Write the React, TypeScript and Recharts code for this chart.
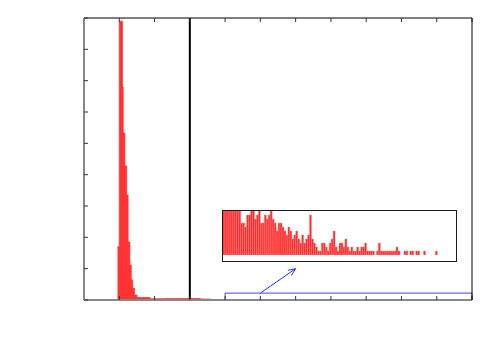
import {
  Area,
  Bar,
  BarChart,
  ComposedChart,
  ReferenceArea,
  ReferenceLine,
  XAxis,
  YAxis,
} from "recharts";

// main histogram (left edge of each step, height)
const mainX = [0.95, 1.0, 1.09, 1.11, 1.16, 1.21, 1.25, 1.3, 1.34, 1.38, 1.43, 1.5, 1.87, 2.3, 2.7, 3.3, 3.6, 4.2];
const mainY = [1.7, 8.9, 6.8, 5.33, 4.28, 3.35, 1.85, 1.12, 0.64, 0.38, 0.16, 0.08, 0.04, 0.05, 0.05, 0.03, 0.01, 0];

const xTicks = [0, 1, 2, 3, 4, 5, 6, 7, 8, 9, 10, 11];
const yTicks = [0, 1, 2, 3, 4, 5, 6, 7, 8, 9];
const cutoff = 3;

// zoomed tail shown in the inset, counts per bin
const insetCounts = [
  12, 12, 12, 12, 12, 12, 12, 12, 11, 8, 8, 7, 10, 10, 12, 12, 9, 10, 11, 8,
  8, 10, 9, 10, 11, 9, 8, 6, 8, 8, 7, 6, 5, 7, 6, 4, 5, 6, 4, 3,
  5, 3, 4, 5, 10, 4, 3, 2, 1, 1, 3, 3, 2, 1, 3, 4, 6, 2, 1, 3,
  3, 2, 4, 2, 1, 2, 1, 1, 2, 1, 2, 2, 3, 1, 1, 1, 1, 0, 1, 3,
  1, 1, 1, 1, 1, 1, 1, 1, 2, 1, 0, 0, 1, 1, 0, 1, 1, 0, 1, 1,
  0, 0, 1, 0, 0, 0, 0, 0, 1, 0, 0, 0, 0, 0, 0, 0, 0, 0,
];

const zoomBox = { x1: 4, x2: 11, y1: 0, y2: 0.22 };
const arrowFrom = { x: 5, y: 0.22 };
const arrowTo = { x: 6, y: 1 };

const mainData = mainX.map((x, i) => ({ x, y: mainY[i] }));
const insetData = insetCounts.map((c, i) => ({ bin: i, c }));

const noLabel = () => <g />;

const Arrow = (p: any) => {
  const { x1, y1, x2, y2 } = p;
  const a = Math.atan2(y2 - y1, x2 - x1);
  const len = 8;
  const spread = 0.4;
  const h1x = x2 - len * Math.cos(a - spread);
  const h1y = y2 - len * Math.sin(a - spread);
  const h2x = x2 - len * Math.cos(a + spread);
  const h2y = y2 - len * Math.sin(a + spread);
  return (
    <g stroke="#2233ee" strokeWidth={1} fill="none">
      <line x1={x1} y1={y1} x2={x2} y2={y2} />
      <polyline points={`${h1x},${h1y} ${x2},${y2} ${h2x},${h2y}`} />
    </g>
  );
};

export default function App() {
  return (
    <div style={{ position: "relative", width: 492, height: 342 }}>
      <ComposedChart
        width={492}
        height={342}
        data={mainData}
        margin={{ top: 9, right: 27, bottom: 49, left: 75 }}
      >
        <XAxis
          xAxisId="b"
          type="number"
          dataKey="x"
          domain={[0, 11]}
          ticks={xTicks}
          tick={noLabel}
          tickSize={-4}
          height={1}
          axisLine={{ stroke: "#888", strokeWidth: 2 }}
          tickLine={{ stroke: "#333" }}
        />
        <XAxis
          xAxisId="t"
          orientation="top"
          type="number"
          dataKey="x"
          domain={[0, 11]}
          ticks={xTicks}
          tick={noLabel}
          tickSize={-4}
          height={1}
          axisLine={{ stroke: "#000", strokeWidth: 1 }}
          tickLine={{ stroke: "#333" }}
        />
        <YAxis
          yAxisId="l"
          type="number"
          domain={[0, 9]}
          ticks={yTicks}
          tick={noLabel}
          tickSize={-4}
          width={1}
          allowDataOverflow
          axisLine={{ stroke: "#888", strokeWidth: 2 }}
          tickLine={{ stroke: "#333" }}
        />
        <YAxis
          yAxisId="r"
          orientation="right"
          type="number"
          domain={[0, 9]}
          ticks={yTicks}
          tick={noLabel}
          tickSize={-4}
          width={1}
          axisLine={{ stroke: "#000", strokeWidth: 1 }}
          tickLine={{ stroke: "#333" }}
        />
        <Area
          xAxisId="b"
          yAxisId="l"
          dataKey="y"
          type="stepAfter"
          fill="#ff3333"
          fillOpacity={1}
          stroke="#ff3333"
          strokeWidth={0.8}
          isAnimationActive={false}
        />
        <ReferenceLine xAxisId="b" yAxisId="l" x={cutoff} stroke="#000" strokeWidth={2} />
        <ReferenceArea
          xAxisId="b"
          yAxisId="l"
          x1={zoomBox.x1}
          x2={zoomBox.x2}
          y1={zoomBox.y1}
          y2={zoomBox.y2}
          fill="none"
          stroke="#4444ee"
          strokeWidth={1}
        />
        <ReferenceLine
          xAxisId="b"
          yAxisId="l"
          segment={[arrowFrom, arrowTo]}
          shape={Arrow}
        />
      </ComposedChart>

      <div
        style={{
          position: "absolute",
          left: 214,
          top: 202,
          width: 235,
          height: 52,
          boxSizing: "border-box",
          border: "1.5px solid #1a1a1a",
          background: "#fff",
        }}
      >
        <BarChart
          width={232}
          height={49}
          data={insetData}
          margin={{ top: 0, right: 0, bottom: 5, left: 0 }}
          barCategoryGap={0}
          barGap={0}
        >
          <XAxis dataKey="bin" hide />
          <YAxis domain={[0, 11]} hide allowDataOverflow />
          <Bar
            dataKey="c"
            fill="#ff2a2a"
            stroke="#ff8a8a"
            strokeWidth={0.4}
            isAnimationActive={false}
          />
        </BarChart>
      </div>
    </div>
  );
}
